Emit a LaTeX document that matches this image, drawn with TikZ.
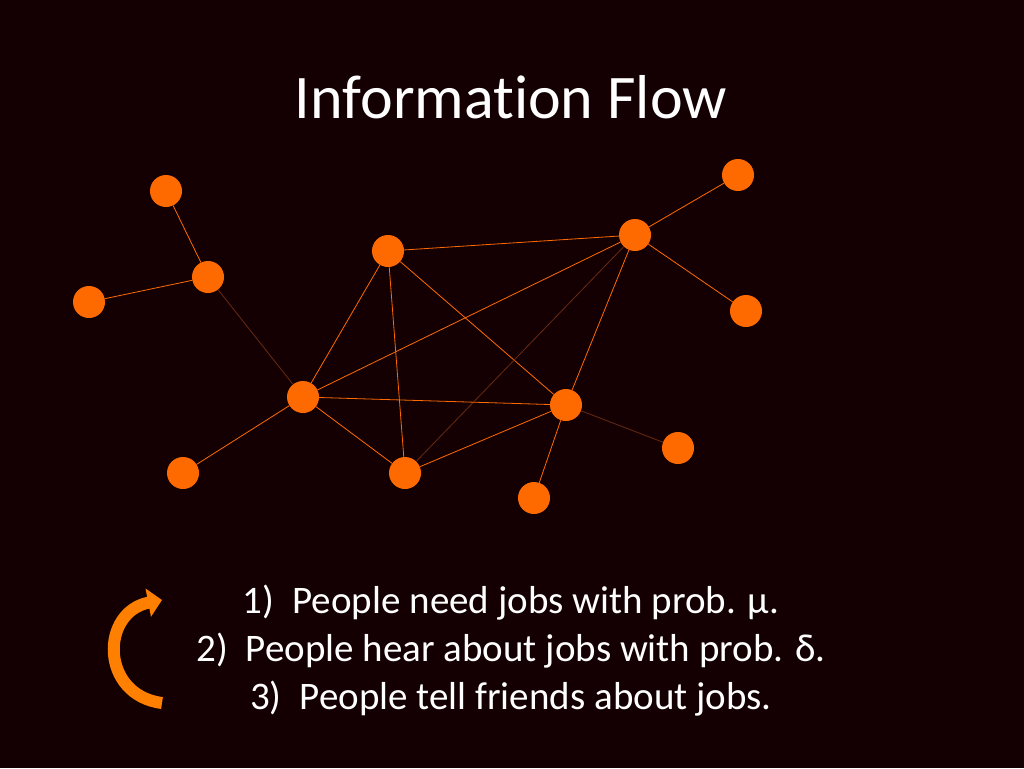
\documentclass[tikz,border=0pt]{standalone}
\usepackage{fontspec}
\setmainfont{Carlito}[Ligatures=NoCommon]
\usetikzlibrary{arrows.meta}
\definecolor{bgdark}{HTML}{140003}
\definecolor{dotorange}{HTML}{FF6A00}
\definecolor{edgedim}{HTML}{6A2A10}
\tikzset{
  dot/.style={circle, fill=dotorange, minimum size=32pt, inner sep=0pt},
  link/.style={dotorange, line width=0.8pt},
  faint/.style={edgedim, line width=0.8pt},
}
\begin{document}
\begin{tikzpicture}[x=1pt,y=-1pt]
  \fill[bgdark] (0,0) rectangle (1024,768);
  \node[white, font=\fontsize{62}{70}\selectfont] (title) at (511,97) {Information Flow};

  \node[dot] (a) at (166,191) {};
  \node[dot] (b) at (208,277) {};
  \node[dot] (c) at (89,302) {};
  \node[dot] (d) at (388,251) {};
  \node[dot] (e) at (635,235) {};
  \node[dot] (f) at (738,175) {};
  \node[dot] (g) at (746,311) {};
  \node[dot] (h) at (303,397) {};
  \node[dot] (i) at (566,405) {};
  \node[dot] (j) at (678,448) {};
  \node[dot] (k) at (183,473) {};
  \node[dot] (l) at (405,473) {};
  \node[dot] (m) at (534,498) {};

  \draw[link] (a) -- (b);
  \draw[link] (b) -- (c);
  \draw[faint] (b) -- (h);
  \draw[link] (d) -- (e);
  \draw[link] (d) -- (h);
  \draw[link] (d) -- (l);
  \draw[link] (d) -- (i);
  \draw[link] (e) -- (f);
  \draw[link] (e) -- (g);
  \draw[link] (e) -- (h);
  \draw[link] (e) -- (i);
  \draw[faint] (e) -- (l);
  \draw[link] (h) -- (i);
  \draw[link] (h) -- (l);
  \draw[link] (h) -- (k);
  \draw[link] (l) -- (i);
  \draw[link] (i) -- (m);
  \draw[faint] (i) -- (j);

  \node[white, font=\fontsize{39}{48}\selectfont, align=center] (rules) at (511,651)
    {1)\hspace{18pt}People need jobs with prob. µ.\\
     2)\hspace{18pt}People hear about jobs with prob. δ.\\
     3)\hspace{18pt}People tell friends about jobs.};

  \coordinate (arrowstart) at (162,703);
  \coordinate (arrowend) at (162,600);
  \draw[dotorange!85!yellow, line width=12pt, -{Triangle[length=14pt,width=28pt]}]
    (arrowstart) .. controls (100,695) and (100,612) .. (arrowend);
\end{tikzpicture}
\end{document}
